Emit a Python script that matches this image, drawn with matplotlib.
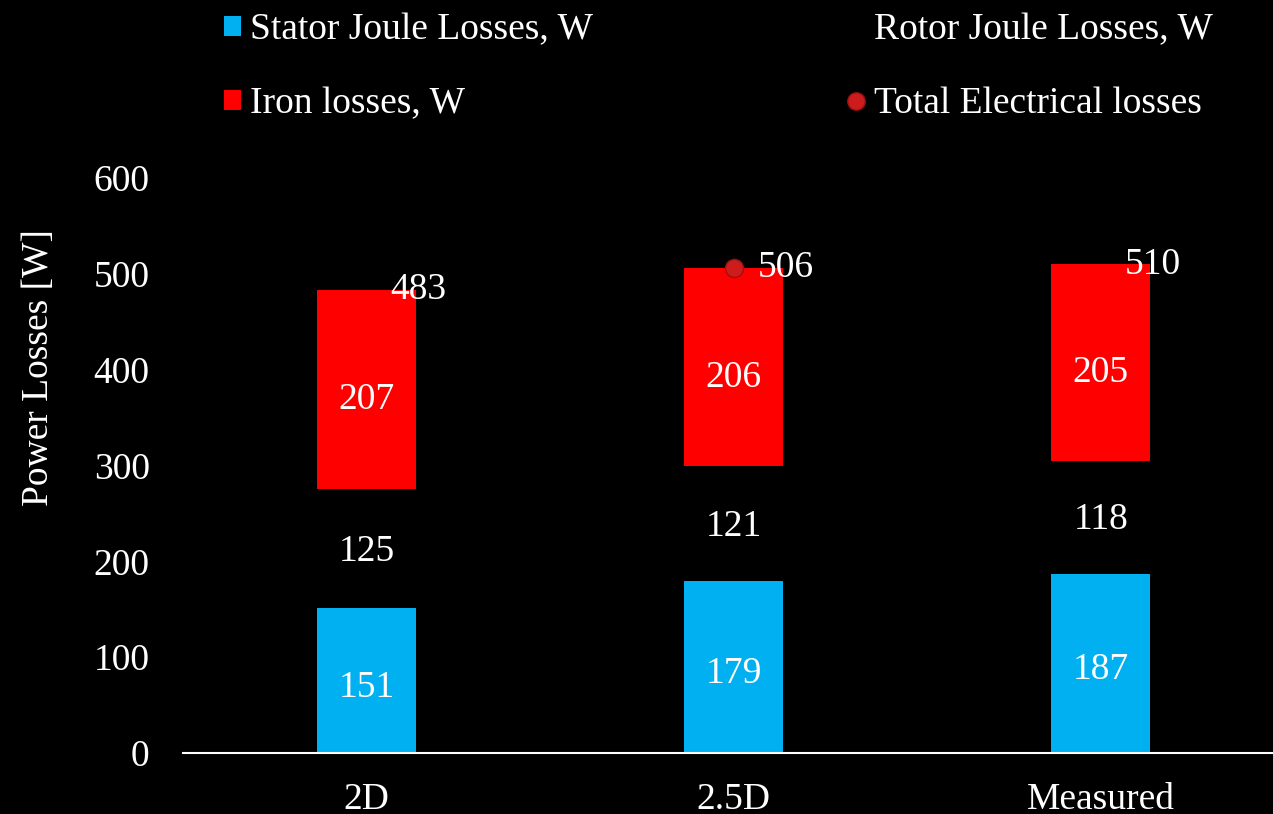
import matplotlib
matplotlib.use("Agg")
import matplotlib.pyplot as plt
import numpy as np

plt.rcParams['font.family'] = ['Liberation Serif', 'DejaVu Serif']

categories = ["2D", "2.5D", "Measured"]
stator = [151, 179, 187]
rotor = [125, 121, 118]
iron = [207, 206, 205]
total = [483, 506, 510]
# only the 2.5D total has a visible marker in the original
total_marker = [False, True, False]

fig = plt.figure(figsize=(12.73, 8.14), dpi=100, facecolor="black")
ax = fig.add_axes([183 / 1273, 61 / 814, 1101.5 / 1273, 575 / 814])
ax.set_facecolor("black")

x = np.arange(len(categories))
w = 0.27
fs = 27

b1 = ax.bar(x, stator, w, color="#00B0F0", label="Stator Joule Losses, W")
bottom2 = np.array(stator)
b2 = ax.bar(x, rotor, w, bottom=bottom2, color="black", label="Rotor Joule Losses, W")
bottom3 = bottom2 + np.array(rotor)
b3 = ax.bar(x, iron, w, bottom=bottom3, color="#FF0000", label="Iron losses, W")

for i in range(len(x)):
    ax.text(x[i], stator[i] / 2 - 7, str(stator[i]), ha="center", va="center", color="white", fontsize=fs)
    ax.text(x[i], bottom2[i] + rotor[i] / 2 - 3, str(rotor[i]), ha="center", va="center", color="white", fontsize=fs)
    ax.text(x[i], bottom3[i] + iron[i] / 2 - 11, str(iron[i]), ha="center", va="center", color="white", fontsize=fs)
    ax.annotate(str(total[i]), (x[i], total[i]), xytext=(17, 0), textcoords="offset points",
                ha="left", va="center", color="white", fontsize=fs)

xm = [x[i] for i in range(len(x)) if total_marker[i]]
ym = [total[i] for i in range(len(x)) if total_marker[i]]
ax.plot(xm, ym, "o", color="#CC1C1C", markeredgecolor="#A01010", markersize=13, linestyle="none")
ln, = ax.plot([], [], "o", color="#CC1C1C", markeredgecolor="#A01010", markersize=12.5,
              linestyle="none", label="Total Electrical losses")

ax.set_xlim(-0.5, 2.5)
ax.set_ylim(0, 600)
ax.set_yticks(range(0, 601, 100))
ax.set_xticks(x)
ax.set_xticklabels(categories)
ax.tick_params(axis="both", colors="white", labelsize=fs, length=0)
ax.tick_params(axis="y", pad=24)
ax.tick_params(axis="x", pad=21)
for s in ["top", "right", "left"]:
    ax.spines[s].set_visible(False)
ax.spines["bottom"].set_color("white")
ax.spines["bottom"].set_linewidth(1.5)
ax.set_ylabel("Power Losses [W]", color="white", fontsize=fs, labelpad=27, y=0.671)

leg = fig.legend([b1, b3, b2, ln],
                 ["Stator Joule Losses, W", "Iron losses, W", "Rotor Joule Losses, W", "Total Electrical losses"],
                 ncol=2, loc="upper left", bbox_to_anchor=(190 / 1273, 1.026), frameon=False,
                 fontsize=fs, labelcolor="white", handlelength=0.45, handleheight=0.45,
                 handletextpad=0.24, columnspacing=6.8, labelspacing=1.05)

fig.savefig("out.png", dpi=100, facecolor="black")
